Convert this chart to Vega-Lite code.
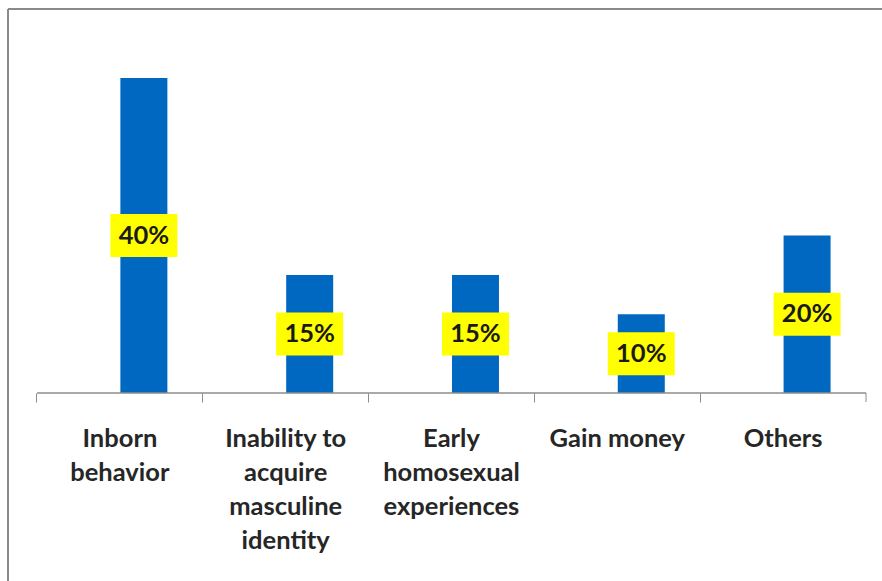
{
  "$schema": "https://vega.github.io/schema/vega-lite/v6.json",
  "width": 874,
  "height": 572,
  "autosize": {"type": "none"},
  "padding": {"left": 8, "top": 9, "right": 0, "bottom": 0},
  "background": "white",
  "config": {"view": {"stroke": null}},
  "data": {"values": [
    {"cause": "Inborn\nbehavior", "share": 0.40},
    {"cause": "Inability to\nacquire\nmasculine\nidentity", "share": 0.15},
    {"cause": "Early\nhomosexual\nexperiences", "share": 0.15},
    {"cause": "Gain money", "share": 0.10},
    {"cause": "Others", "share": 0.20}
  ]},
  "resolve": {"scale": {"x": "independent", "y": "independent"}},
  "layer": [
    {
      "mark": {"type": "bar", "color": "#0068c0", "size": 47, "xOffset": 24},
      "encoding": {
        "x": {"field": "cause", "type": "nominal", "sort": null,
          "scale": {"type": "band", "paddingInner": 0, "paddingOuter": 0.1357, "align": 0.644},
          "axis": {"title": null, "domain": false, "bandPosition": 0, "ticks": true, "tickSize": 9, "tickColor": "#8c8c8c", "tickWidth": 1, "grid": false,
            "labelAngle": 0, "labelFont": "Lato", "labelFontSize": 25.5, "labelFontWeight": "bold", "labelColor": "#262626",
            "labelLineHeight": 34, "labelPadding": 24, "labelLimit": 300, "labelExpr": "split(datum.label, '\\n')", "offset": -188}},
        "y": {"field": "share", "type": "quantitative", "scale": {"domain": [-0.23873, 0.48762], "nice": false}, "axis": null}
      }
    },
    {
      "mark": {"type": "point", "shape": "M-1.558,-1H1.558V1H-1.558Z", "size": 1849, "filled": true, "color": "#ffff00", "opacity": 1, "xOffset": 24},
      "encoding": {
        "x": {"field": "cause", "type": "nominal", "sort": null,
          "scale": {"type": "band", "paddingInner": 0, "paddingOuter": 0.1357, "align": 0.644}, "axis": null},
        "y": {"field": "share", "type": "quantitative", "scale": {"domain": [-0.47746, 0.97524], "nice": false}, "axis": null}
      }
    },
    {
      "mark": {"type": "text", "font": "Lato", "fontSize": 25.5, "fontWeight": "bold", "color": "#1a1a1a", "xOffset": 24, "align": "center", "baseline": "middle"},
      "encoding": {
        "x": {"field": "cause", "type": "nominal", "sort": null,
          "scale": {"type": "band", "paddingInner": 0, "paddingOuter": 0.1357, "align": 0.644}, "axis": null},
        "y": {"field": "share", "type": "quantitative", "scale": {"domain": [-0.47746, 0.97524], "nice": false}, "axis": null},
        "text": {"field": "share", "type": "quantitative", "format": ".0%"}
      }
    },
    {
      "data": {"values": [{}]},
      "mark": {"type": "rule", "color": "#8c8c8c", "strokeWidth": 1.5},
      "encoding": {
        "x": {"datum": 0, "type": "quantitative", "scale": {"domain": [-0.1749, 5.0965], "nice": false, "zero": false}, "axis": null},
        "x2": {"datum": 5},
        "y": {"datum": 0, "type": "quantitative", "scale": {"domain": [-0.23873, 0.48762], "nice": false}, "axis": null}
      }
    },
    {
      "data": {"values": [{}]},
      "mark": {"type": "rule", "color": "#8c8c8c", "strokeWidth": 1},
      "encoding": {
        "x": {"datum": 5, "type": "quantitative", "scale": {"domain": [-0.1749, 5.0965], "nice": false, "zero": false}, "axis": null},
        "y": {"datum": 0, "type": "quantitative", "scale": {"domain": [-0.23873, 0.48762], "nice": false}, "axis": null},
        "y2": {"datum": -0.01143}
      }
    },
    {
      "data": {"values": [{}]},
      "mark": {"type": "rule", "color": "#8a8a8a", "strokeWidth": 2},
      "encoding": {
        "x": {"datum": -0.1749, "type": "quantitative", "scale": {"domain": [-0.1749, 5.0965], "nice": false, "zero": false}, "axis": null}
      }
    },
    {
      "data": {"values": [{}]},
      "mark": {"type": "rule", "color": "#8a8a8a", "strokeWidth": 2},
      "encoding": {
        "y": {"datum": 0.48762, "type": "quantitative", "scale": {"domain": [-0.23873, 0.48762], "nice": false}, "axis": null}
      }
    }
  ]
}
